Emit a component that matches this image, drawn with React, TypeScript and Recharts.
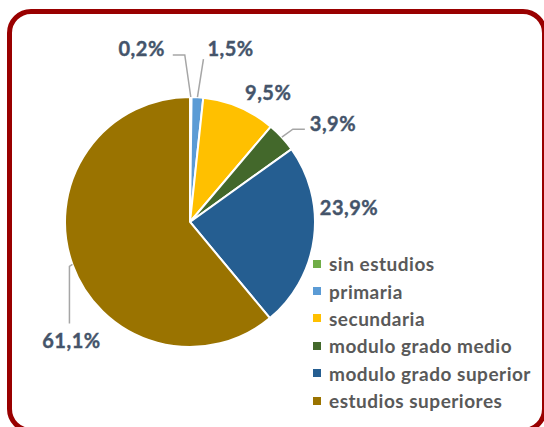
import { PieChart, Pie, Cell, Legend } from "recharts";

const categories = [
  "sin estudios",
  "primaria",
  "secundaria",
  "modulo grado medio",
  "modulo grado superior",
  "estudios superiores",
];
const shares = [0.2, 1.5, 9.5, 3.9, 23.9, 61.1];
const colors = ["#70AD47", "#5B9BD5", "#FFC000", "#43682B", "#255E91", "#9A7300"];

const data = categories.map((name, i) => ({ name, value: shares[i] }));

// label placement relative to the slice's outer edge point (Excel-style manual layout)
const labelLayout = [
  { dx: -26, dy: -49, anchor: "end", leader: [[-6, -42], [-18, -42]] },
  { dx: 10, dy: -49, anchor: "start", leader: [[6, -38]] },
  { dx: 29, dy: -15, anchor: "middle", leader: [] },
  { dx: 28, dy: -14, anchor: "start", leader: [[11, -8], [23, -8]] },
  { dx: 35, dy: -31, anchor: "middle", leader: [] },
  { dx: -1, dy: 76, anchor: "middle", leader: [[-3, 2], [-3, 59]] },
];

const RAD = Math.PI / 180;
const FONT = "Lato, 'Open Sans', sans-serif";

const renderLabel = (props: any) => {
  const { cx, cy, midAngle, outerRadius, index, value } = props;
  const ex = cx + outerRadius * Math.cos(-midAngle * RAD);
  const ey = cy + outerRadius * Math.sin(-midAngle * RAD);
  const l = labelLayout[index];
  const pts = l.leader.length
    ? [[0, 0], ...l.leader].map(([x, y]) => `${ex + x},${ey + y}`).join(" ")
    : null;
  return (
    <g key={`lbl-${index}`}>
      {pts && <polyline points={pts} fill="none" stroke="#A6A6A6" strokeWidth={1.5} />}
      <text
        x={ex + l.dx}
        y={ey + l.dy}
        textAnchor={l.anchor}
        dominantBaseline="central"
        fill="#44546A"
        stroke="#44546A"
        strokeWidth={0.4}
        fontSize={20}
        fontWeight={700}
        letterSpacing={0.5}
        fontFamily={FONT}
      >
        {value.toFixed(1).replace(".", ",")}%
      </text>
    </g>
  );
};

const LegendBox = () => (
  <div style={{ fontFamily: FONT }}>
    {categories.map((c, i) => (
      <div
        key={c}
        style={{
          display: "flex",
          alignItems: "center",
          height: 27.4,
          fontSize: 19,
          fontWeight: 700,
          letterSpacing: 0.5,
          color: "#595959",
          whiteSpace: "nowrap",
        }}
      >
        <span
          style={{
            width: 8,
            height: 8,
            background: colors[i],
            marginRight: 8,
            display: "inline-block",
          }}
        />
        {c}
      </div>
    ))}
  </div>
);

export default function App() {
  return (
    <div
      style={{
        position: "fixed",
        left: 0,
        top: 0,
        width: 544,
        height: 427,
        overflow: "hidden",
        background: "#fff",
      }}
    >
      <div
        style={{
          position: "absolute",
          left: 7,
          top: 9,
          width: 540,
          height: 424,
          border: "5px solid #990000",
          borderRadius: 24,
          boxSizing: "border-box",
        }}
      />
      <div style={{ position: "absolute", left: 0, top: 0 }}>
        <PieChart width={544} height={427} margin={{ top: 0, right: 0, bottom: 0, left: 0 }}>
          <Pie
            data={data}
            dataKey="value"
            nameKey="name"
            cx={190}
            cy={222}
            outerRadius={125}
            startAngle={90}
            endAngle={-270}
            stroke="#fff"
            strokeWidth={2}
            label={renderLabel}
            labelLine={false}
            isAnimationActive={false}
          >
            {data.map((d, i) => (
              <Cell key={d.name} fill={colors[i]} />
            ))}
          </Pie>
          <Legend
            content={<LegendBox />}
            wrapperStyle={{ position: "absolute", left: 313, top: 250, width: "auto" }}
          />
        </PieChart>
      </div>
    </div>
  );
}
